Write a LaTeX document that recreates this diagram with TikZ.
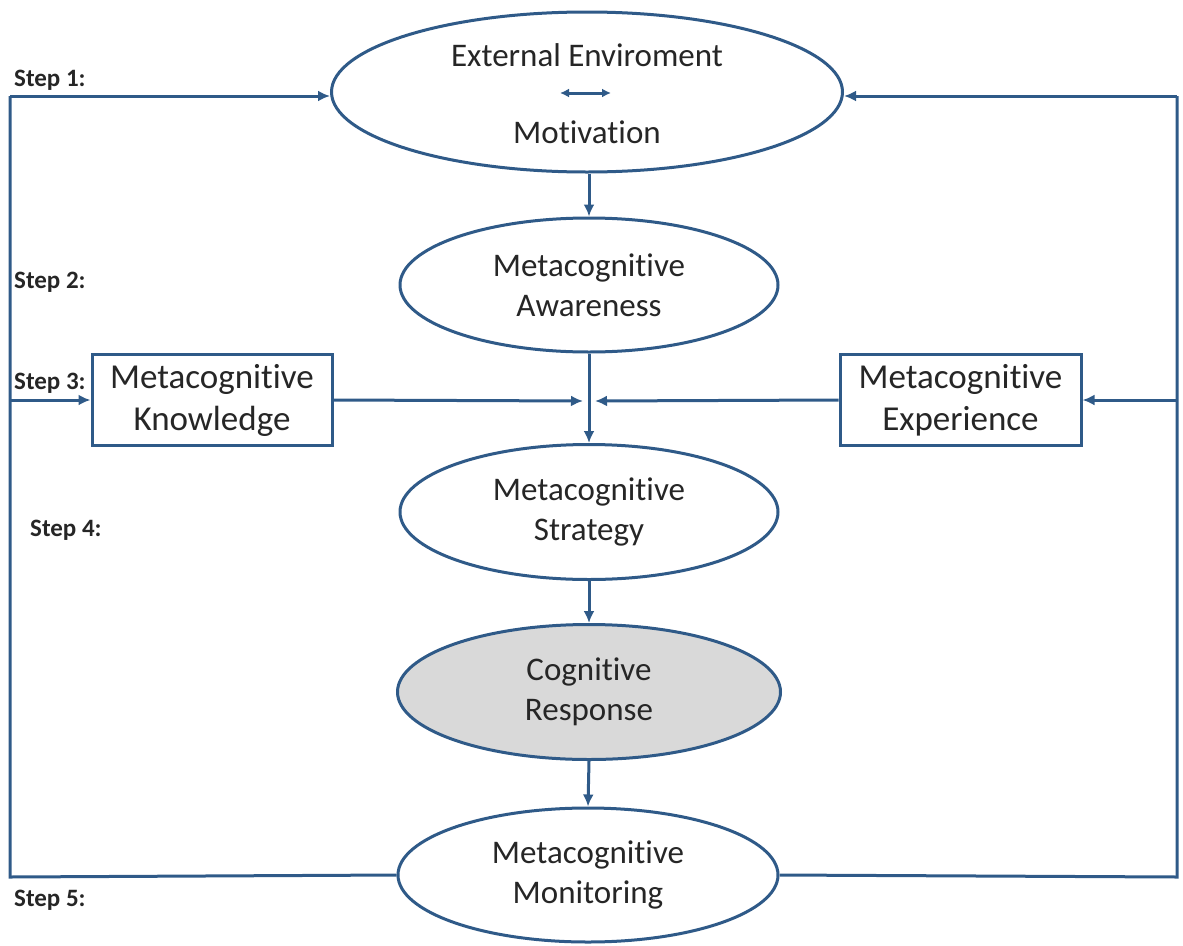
\documentclass[tikz,border=0pt]{standalone}
\usepackage{fontspec}
\setmainfont{Carlito}[Ligatures={NoCommon,NoContextual,NoRare}]
\usetikzlibrary{shapes.geometric,arrows.meta}
\newcommand\tnolig{t\kern0pt }
\definecolor{lineblue}{HTML}{2F5A88}
\definecolor{txt}{HTML}{262626}
\definecolor{resp}{HTML}{D9D9D9}
\tikzset{
  ell/.style={ellipse, draw=lineblue, line width=3pt, inner sep=0pt, fill=white,
    text=txt, align=center, font=\fontsize{33}{40}\selectfont},
  boxnode/.style={rectangle, draw=lineblue, line width=3pt, inner sep=0pt, fill=white,
    text=txt, align=center, font=\fontsize{35}{42}\selectfont},
  steplabel/.style={anchor=west, text=txt, inner sep=0pt, font=\fontsize{25}{30}\selectfont\bfseries},
  wire/.style={draw=lineblue, line width=3pt},
  arr/.style={wire, -{Latex[length=12pt,width=11pt]}},
  dbl/.style={draw=lineblue, line width=3pt, {Latex[length=9pt,width=9pt]}-{Latex[length=9pt,width=9pt]}},
  plain/.style={text=txt, inner sep=0pt, font=\fontsize{33}{40}\selectfont}
}
\begin{document}
\begin{tikzpicture}[x=1pt,y=-1pt]
\useasboundingbox (0,0) rectangle (1183,945);
% nodes
\node[ell, minimum width=511pt, minimum height=160pt] (top) at (587,92) {};
\node[plain] (ext) at (587,55) {External Enviroment};
\node[plain] (mot) at (587,132) {Motivation};
\coordinate (da) at (560,93);
\coordinate (db) at (611,93);
\draw[dbl] (da) -- (db);

\node[ell, minimum width=378pt, minimum height=134pt] (aw) at (589,285) {Metacogni\tnolig ive\\Awareness};
\node[boxnode, minimum width=240pt, minimum height=91pt] (know) at (212,400) {Metacogni\tnolig ive\\Knowledge};
\node[boxnode, minimum width=241pt, minimum height=91pt] (exp) at (960.5,400) {Metacogni\tnolig ive\\Experience};
\node[ell, minimum width=378pt, minimum height=135pt] (strat) at (589,512) {Metacogni\tnolig ive\\Strategy};
\node[ell, fill=resp, minimum width=383pt, minimum height=135pt] (resp) at (589,692) {Cogni\tnolig ive\\Response};
\node[ell, minimum width=380pt, minimum height=134pt] (mon) at (588,875) {Metacogni\tnolig ive\\Monitoring};

% step labels
\node[steplabel] (s1) at (14,80) {Step 1:};
\node[steplabel] (s2) at (14,282) {Step 2:};
\node[steplabel] (s3) at (14,383) {Step 3:};
\node[steplabel] (s4) at (30,530) {Step 4:};
\node[steplabel] (s5) at (14,900) {Step 5:};

% central flow
\draw[arr] (top.south -| aw.north) -- (aw.north);
\draw[arr] (aw.south) -- (strat.north);
\coordinate (jl) at (583,401);
\coordinate (jr) at (595,401);
\draw[arr] (know.east) -- (jl);
\draw[arr] (exp.west) -- (jr);
\draw[arr] (strat.south) -- (resp.north);
\draw[arr] (resp.south) -- (mon.north);

% left feedback loop
\coordinate (bl) at (10,877);
\coordinate (tl) at (10,96);
\draw[wire] (mon.west) -- (bl) -- (tl);
\draw[arr] (tl) -- (top.west |- tl);
\draw[arr] (know.west -| bl) -- (know.west);

% right feedback loop
\coordinate (br) at (1177,877);
\coordinate (tr) at (1177,96);
\draw[wire] (mon.east) -- (br) -- (tr);
\draw[arr] (tr) -- (top.east |- tr);
\draw[arr] (exp.east -| br) -- (exp.east);
\end{tikzpicture}
\end{document}
